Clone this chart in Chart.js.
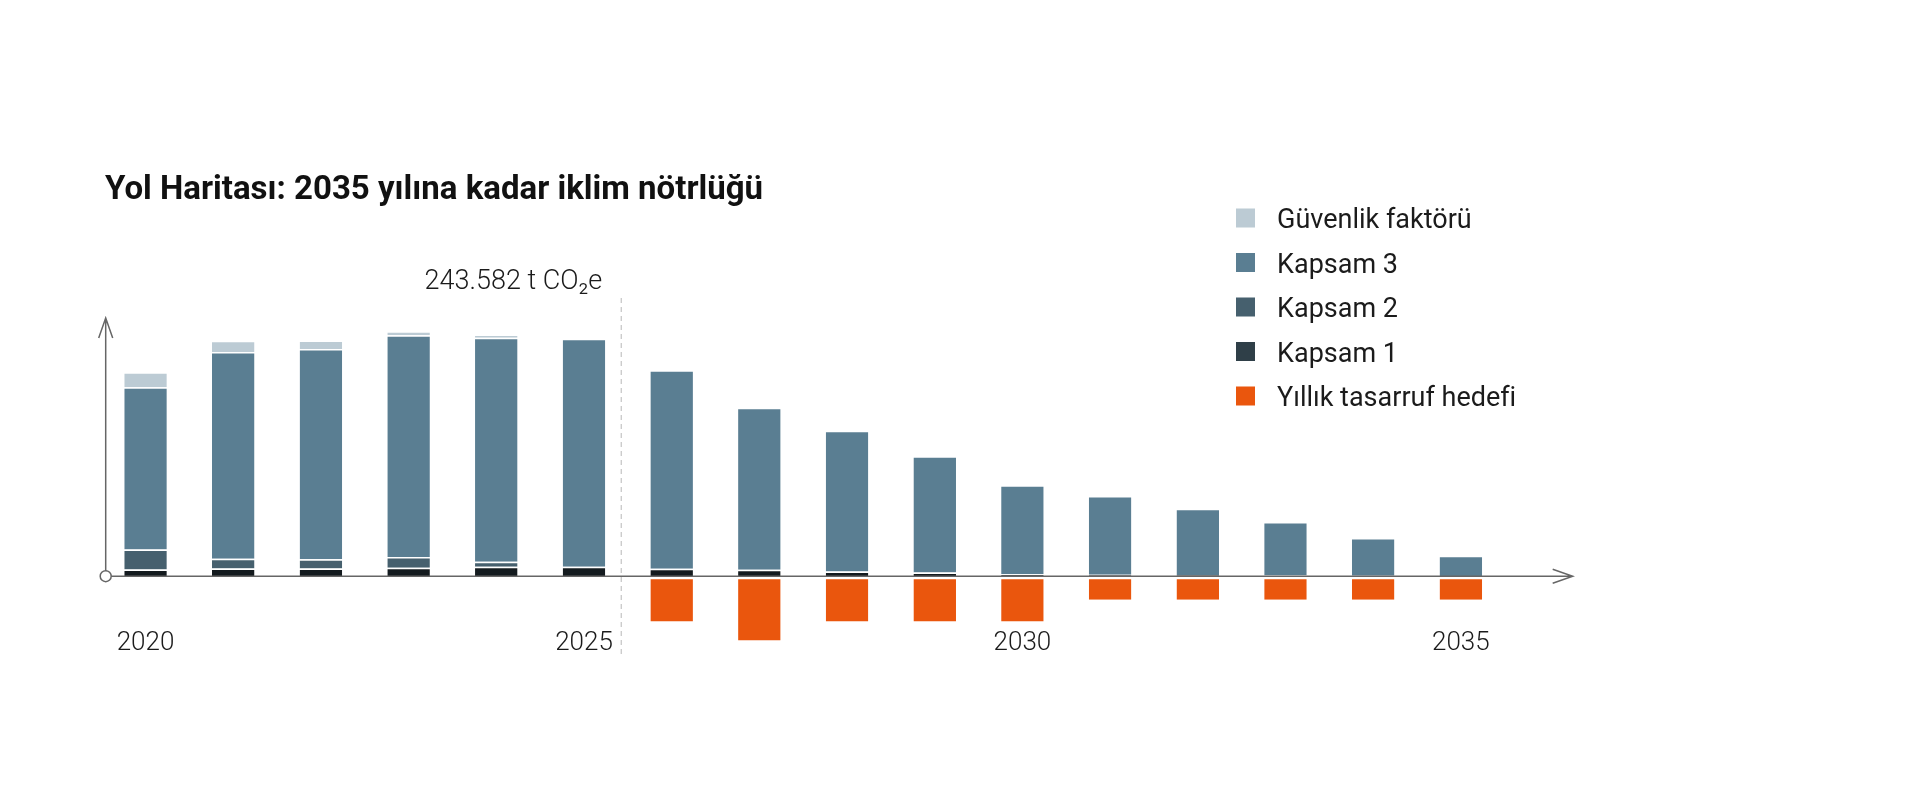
<!DOCTYPE html>
<html lang="tr">
<head>
<meta charset="utf-8">
<title>Yol Haritası</title>
<script src="https://cdn.jsdelivr.net/npm/chart.js@4.4.1/dist/chart.umd.min.js"></script>
<style>
  html, body { margin: 0; padding: 0; background: #fff; }
  #wrap { width: 1920px; height: 800px; position: relative; }
</style>
</head>
<body>
<div id="wrap"><canvas id="roadmapChart"></canvas></div>
<script>
// data (thousand t CO2e)
var years = ['2020', '2021', '2022', '2023', '2024', '2025', '2026', '2027',
             '2028', '2029', '2030', '2031', '2032', '2033', '2034', '2035'];
var yearTicks = ['2020', '2025', '2030', '2035'];
var kapsam1 = [7.0, 8.0, 8.0, 8.6, 9.7, 9.7, 7.6, 6.5, 4.9, 3.8, 2.1, 1.6, 1.2, 0.6, 0.4, 0];
var kapsam2 = [20.3, 10.0, 9.3, 11.1, 5.2, 0, 0, 0, 0, 0, 0, 0, 0, 0, 0, 0];
var kapsam3 = [166.5, 212.2, 215.9, 227.6, 229.8, 233.9, 203.8, 166.5, 144.3, 119.4, 91.3, 80.8, 68.0, 55.1, 38.7, 21.1];
var guvenlik = [15.6, 11.4, 8.6, 4.2, 3.4, 0, 0, 0, 0, 0, 0, 0, 0, 0, 0, 0];
var tasarruf = [0, 0, 0, 0, 0, 0, -46.4, -66.1, -46.4, -46.4, -46.4, -24.2, -24.2, -24.2, -24.2, -24.2];

var title = 'Yol Haritası: 2035 yılına kadar iklim nötrlüğü';
var baseLabel = '243.582 t CO₂e';
var baseYear = '2025';

var FONT = 'Roboto, "Noto Sans", sans-serif';

//########## DECORATION PLUGIN ###########
var decorations = {
    id: 'decorations',
    afterDatasetsDraw: function (chart) {
        var ctx = chart.ctx;
        var xs = chart.scales.x;
        var ys = chart.scales.y;
        var area = chart.chartArea;
        var zeroY = ys.getPixelForValue(0);
        var axisX = area.left + 4;
        var step = xs.getPixelForValue(1) - xs.getPixelForValue(0);

        ctx.save();

        // axes with arrows
        ctx.strokeStyle = '#666';
        ctx.lineWidth = 1.5;
        ctx.beginPath();
        ctx.moveTo(axisX, zeroY - 5);
        ctx.lineTo(axisX, area.top);
        ctx.moveTo(axisX - 7, area.top + 20);
        ctx.lineTo(axisX, area.top);
        ctx.lineTo(axisX + 7, area.top + 20);
        var xEnd = area.right + 68;
        ctx.moveTo(axisX + 5, zeroY);
        ctx.lineTo(xEnd, zeroY);
        ctx.moveTo(xEnd - 20, zeroY - 7);
        ctx.lineTo(xEnd, zeroY);
        ctx.lineTo(xEnd - 20, zeroY + 7);
        ctx.stroke();

        // origin circle
        ctx.beginPath();
        ctx.arc(axisX, zeroY, 5.5, 0, Math.PI * 2);
        ctx.fillStyle = '#fff';
        ctx.fill();
        ctx.stroke();

        // dashed line after base year
        var bi = years.indexOf(baseYear);
        var dashX = xs.getPixelForValue(bi) + step * 0.425;
        ctx.strokeStyle = '#c4c4c4';
        ctx.lineWidth = 1.2;
        ctx.setLineDash([5, 4]);
        ctx.beginPath();
        ctx.moveTo(dashX, area.top - 20);
        ctx.lineTo(dashX, area.bottom - 4);
        ctx.stroke();
        ctx.setLineDash([]);

        // base year label
        ctx.fillStyle = '#1b1b1b';
        ctx.font = '300 27px ' + FONT;
        ctx.textAlign = 'right';
        ctx.textBaseline = 'alphabetic';
        ctx.fillText(baseLabel, dashX - 19, area.top - 29);

        // year labels
        ctx.font = '300 26px ' + FONT;
        ctx.textAlign = 'center';
        yearTicks.forEach(function (y) {
            var i = years.indexOf(y);
            ctx.fillText(y, xs.getPixelForValue(i), zeroY + 74);
        });

        // title
        ctx.font = '700 33px ' + FONT;
        ctx.textAlign = 'left';
        ctx.fillStyle = '#111';
        ctx.fillText(title, 105, 199);

        // legend
        var order = [3, 2, 1, 0, 4];
        ctx.font = '400 27px ' + FONT;
        order.forEach(function (d, k) {
            var ds = chart.data.datasets[d];
            var cy = 218 + k * 44.5;
            ctx.fillStyle = ds.legendColor || ds.backgroundColor;
            ctx.fillRect(1236, cy - 9.5, 19, 19);
            ctx.fillStyle = '#1b1b1b';
            ctx.fillText(ds.label, 1277, cy + 10);
        });

        ctx.restore();
    }
};

//########## BAR CHART ###########
var barBorder = { top: 1.5, right: 0, bottom: 0, left: 0 };

var roadmapData = {
    labels: years,
    datasets: [
        { label: 'Kapsam 1', data: kapsam1, backgroundColor: '#141b1f', legendColor: '#2f3f48',
          borderColor: '#fff', borderWidth: barBorder, borderSkipped: false },
        { label: 'Kapsam 2', data: kapsam2, backgroundColor: '#46606e',
          borderColor: '#fff', borderWidth: barBorder, borderSkipped: false },
        { label: 'Kapsam 3', data: kapsam3, backgroundColor: '#5a7e92',
          borderColor: '#fff', borderWidth: barBorder, borderSkipped: false },
        { label: 'Güvenlik faktörü', data: guvenlik, backgroundColor: '#bccbd4',
          borderColor: '#fff', borderWidth: barBorder, borderSkipped: false },
        { label: 'Yıllık tasarruf hedefi', data: tasarruf, backgroundColor: '#ea560d',
          borderColor: '#fff', borderWidth: { top: 3, right: 0, bottom: 0, left: 0 }, borderSkipped: false }
    ]
};

var roadmapOptions = {
    responsive: true,
    maintainAspectRatio: false,
    animation: false,
    events: [],
    layout: {
        padding: { left: 101.7, right: 415.3, top: 318, bottom: 140 }
    },
    datasets: {
        bar: { categoryPercentage: 1, barPercentage: 0.485 }
    },
    plugins: {
        legend: { display: false },
        tooltip: { enabled: false },
        title: { display: false }
    },
    scales: {
        x: { stacked: true, display: false, offset: true },
        y: { stacked: true, display: false, min: -86, max: 265 }
    }
};

var roadmapChart = new Chart(document.getElementById('roadmapChart').getContext('2d'), {
    type: 'bar',
    data: roadmapData,
    options: roadmapOptions,
    plugins: [decorations]
});
</script>
</body>
</html>
